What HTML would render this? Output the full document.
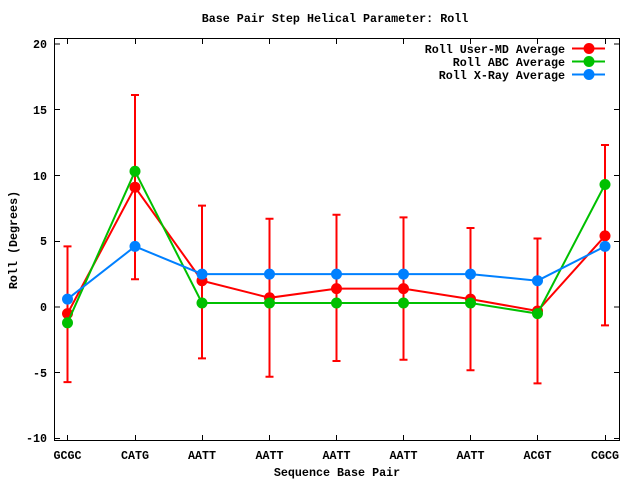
<!DOCTYPE html>
<html><head><meta charset="utf-8"><style>
html,body{margin:0;padding:0;background:#fff;}
svg{display:block;}
text{font-family:"Liberation Mono",monospace;font-weight:bold;font-size:11.7px;fill:#000;}
</style></head><body>
<svg width="640" height="480" xmlns="http://www.w3.org/2000/svg">
<rect x="0" y="0" width="640" height="480" fill="#fff"/>
<text x="335" y="22" text-anchor="middle">Base Pair Step Helical Parameter: Roll</text>
<rect x="54.5" y="38.5" width="565" height="402" fill="none" stroke="#000" stroke-width="1"/>
<g stroke="#000" stroke-width="1">
<line x1="55" y1="44" x2="60" y2="44"/><line x1="619" y1="44" x2="614" y2="44"/>
<line x1="55" y1="109.5" x2="60" y2="109.5"/><line x1="619" y1="109.5" x2="614" y2="109.5"/>
<line x1="55" y1="175.5" x2="60" y2="175.5"/><line x1="619" y1="175.5" x2="614" y2="175.5"/>
<line x1="55" y1="241.5" x2="60" y2="241.5"/><line x1="619" y1="241.5" x2="614" y2="241.5"/>
<line x1="55" y1="307" x2="60" y2="307"/><line x1="619" y1="307" x2="614" y2="307"/>
<line x1="55" y1="372.5" x2="60" y2="372.5"/><line x1="619" y1="372.5" x2="614" y2="372.5"/>
<line x1="55" y1="438.5" x2="60" y2="438.5"/><line x1="619" y1="438.5" x2="614" y2="438.5"/>
<line x1="67.5" y1="440" x2="67.5" y2="435"/><line x1="135.5" y1="440" x2="135.5" y2="435"/><line x1="202.5" y1="440" x2="202.5" y2="435"/><line x1="269.5" y1="440" x2="269.5" y2="435"/><line x1="336.5" y1="440" x2="336.5" y2="435"/><line x1="403.5" y1="440" x2="403.5" y2="435"/><line x1="470.5" y1="440" x2="470.5" y2="435"/><line x1="537.5" y1="440" x2="537.5" y2="435"/><line x1="605.5" y1="440" x2="605.5" y2="435"/>
<line x1="67.5" y1="39" x2="67.5" y2="44"/><line x1="135.5" y1="39" x2="135.5" y2="44"/><line x1="202.5" y1="39" x2="202.5" y2="44"/><line x1="269.5" y1="39" x2="269.5" y2="44"/><line x1="336.5" y1="39" x2="336.5" y2="44"/><line x1="403.5" y1="39" x2="403.5" y2="44"/><line x1="470.5" y1="39" x2="470.5" y2="44"/><line x1="537.5" y1="39" x2="537.5" y2="44"/><line x1="605.5" y1="39" x2="605.5" y2="44"/>
</g>
<g text-anchor="end">
<text x="47" y="48">20</text><text x="47" y="114">15</text><text x="47" y="180">10</text><text x="47" y="245">5</text><text x="47" y="311">0</text><text x="47" y="377">-5</text><text x="47" y="442">-10</text>
</g>
<g text-anchor="middle">
<text x="67.5" y="459">GCGC</text><text x="135" y="459">CATG</text><text x="202" y="459">AATT</text><text x="269.5" y="459">AATT</text><text x="336.5" y="459">AATT</text><text x="403.5" y="459">AATT</text><text x="470.5" y="459">AATT</text><text x="537.5" y="459">ACGT</text><text x="605" y="459">CGCG</text>
<text x="337" y="476">Sequence Base Pair</text>
</g>
<text x="17" y="240" text-anchor="middle" transform="rotate(-90 17 240)">Roll (Degrees)</text>
<g stroke="#ff0000" stroke-width="2" fill="none">
<path d="M67.5 382.1V246.4M63.5 382.1h8M63.5 246.4h8"/>
<path d="M135 279.3V95M131 279.3h8M131 95h8"/>
<path d="M202 358.4V205.6M198 358.4h8M198 205.6h8"/>
<path d="M269.5 376.8V218.8M265.5 376.8h8M265.5 218.8h8"/>
<path d="M336.5 361V214.8M332.5 361h8M332.5 214.8h8"/>
<path d="M403.5 359.7V217.4M399.5 359.7h8M399.5 217.4h8"/>
<path d="M470.5 370.2V228M466.5 370.2h8M466.5 228h8"/>
<path d="M537.5 383.4V238.5M533.5 383.4h8M533.5 238.5h8"/>
<path d="M605 325.4V145M601 325.4h8M601 145h8"/>
<polyline points="67.5,313.6 135,187.2 202,280.7 269.5,297.8 336.5,288.6 403.5,288.6 470.5,299.1 537.5,311 605,235.9"/>
</g>
<g fill="#ff0000">
<circle cx="67.5" cy="313.6" r="5.5"/><circle cx="135" cy="187.2" r="5.5"/><circle cx="202" cy="280.7" r="5.5"/><circle cx="269.5" cy="297.8" r="5.5"/><circle cx="336.5" cy="288.6" r="5.5"/><circle cx="403.5" cy="288.6" r="5.5"/><circle cx="470.5" cy="299.1" r="5.5"/><circle cx="537.5" cy="311" r="5.5"/><circle cx="605" cy="235.9" r="5.5"/>
</g>
<polyline fill="none" stroke="#00c000" stroke-width="2" points="67.5,322.8 135,171.3 202,303 269.5,303 336.5,303 403.5,303 470.5,303 537.5,313.6 605,184.5"/>
<g fill="#00c000">
<circle cx="67.5" cy="322.8" r="5.5"/><circle cx="135" cy="171.3" r="5.5"/><circle cx="202" cy="303" r="5.5"/><circle cx="269.5" cy="303" r="5.5"/><circle cx="336.5" cy="303" r="5.5"/><circle cx="403.5" cy="303" r="5.5"/><circle cx="470.5" cy="303" r="5.5"/><circle cx="537.5" cy="313.6" r="5.5"/><circle cx="605" cy="184.5" r="5.5"/>
</g>
<polyline fill="none" stroke="#0080ff" stroke-width="2" points="67.5,299.1 135,246.4 202,274.1 269.5,274.1 336.5,274.1 403.5,274.1 470.5,274.1 537.5,280.7 605,246.4"/>
<g fill="#0080ff">
<circle cx="67.5" cy="299.1" r="5.5"/><circle cx="135" cy="246.4" r="5.5"/><circle cx="202" cy="274.1" r="5.5"/><circle cx="269.5" cy="274.1" r="5.5"/><circle cx="336.5" cy="274.1" r="5.5"/><circle cx="403.5" cy="274.1" r="5.5"/><circle cx="470.5" cy="274.1" r="5.5"/><circle cx="537.5" cy="280.7" r="5.5"/><circle cx="605" cy="246.4" r="5.5"/>
</g>
<g text-anchor="end">
<text x="565" y="53">Roll User-MD Average</text>
<text x="565" y="66">Roll ABC Average</text>
<text x="565" y="79">Roll X-Ray Average</text>
</g>
<line x1="572" y1="48.5" x2="605" y2="48.5" stroke="#ff0000" stroke-width="2"/><circle cx="589" cy="48.5" r="5.5" fill="#ff0000"/>
<line x1="572" y1="61.5" x2="605" y2="61.5" stroke="#00c000" stroke-width="2"/><circle cx="589" cy="61.5" r="5.5" fill="#00c000"/>
<line x1="572" y1="74.5" x2="605" y2="74.5" stroke="#0080ff" stroke-width="2"/><circle cx="589" cy="74.5" r="5.5" fill="#0080ff"/>
</svg>
</body></html>
